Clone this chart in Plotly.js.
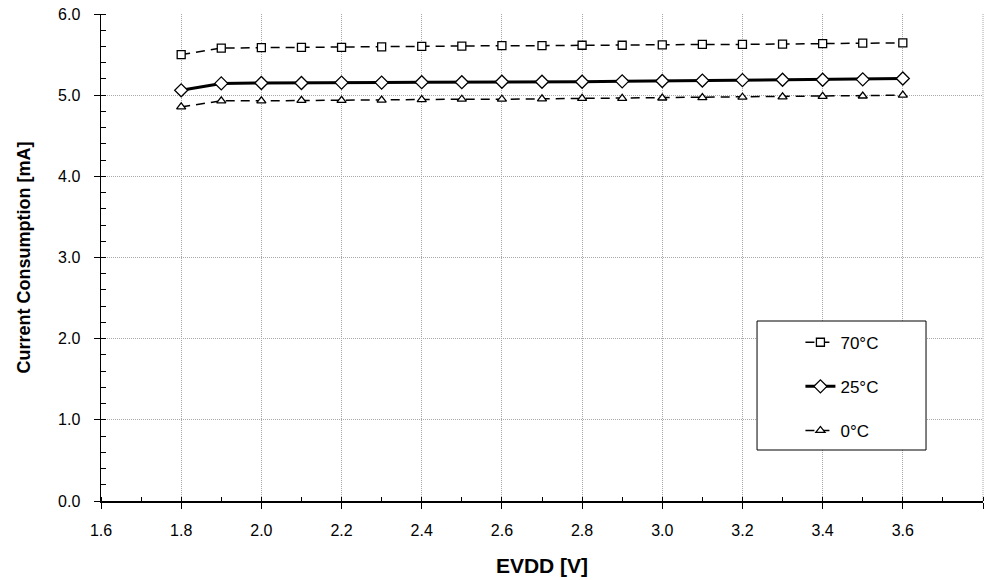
<!DOCTYPE html>
<html>
<head>
<meta charset="utf-8">
<script src="https://cdn.plot.ly/plotly-3.0.1.min.js"></script>
<style>html,body{margin:0;padding:0;background:#fff;}#chart{width:989px;height:580px;}</style>
</head>
<body>
<div id="chart"></div>
<script>
const evdd = [1.8, 1.9, 2.0, 2.1, 2.2, 2.3, 2.4, 2.5, 2.6, 2.7, 2.8, 2.9, 3.0, 3.1, 3.2, 3.3, 3.4, 3.5, 3.6];
const current70 = [5.50, 5.58, 5.585, 5.59, 5.59, 5.595, 5.60, 5.605, 5.61, 5.61, 5.615, 5.615, 5.62, 5.625, 5.625, 5.63, 5.635, 5.64, 5.645];
const current25 = [5.06, 5.145, 5.15, 5.15, 5.155, 5.155, 5.16, 5.16, 5.165, 5.165, 5.165, 5.17, 5.175, 5.18, 5.185, 5.19, 5.19, 5.195, 5.205];
const current0 = [4.855, 4.93, 4.93, 4.935, 4.935, 4.94, 4.945, 4.95, 4.95, 4.955, 4.96, 4.96, 4.965, 4.97, 4.975, 4.98, 4.985, 4.99, 5.0];
const seriesNames = ['70°C', '25°C', '0°C'];
const xTitle = 'EVDD [V]';
const yTitle = 'Current Consumption [mA]';

const font = 'Liberation Sans, Arial, sans-serif';
const gridColor = '#a8a8a8';
const gridDash = '1px,1px';

const traces = [
  {
    x: evdd, y: current70, name: seriesNames[0], type: 'scatter', mode: 'lines+markers',
    legendgroup: 'a',
    line: {color: '#000', width: 1.5, dash: '9px,6px'},
    marker: {symbol: 'square', size: 8, color: '#fff', line: {color: '#000', width: 1.3}}
  },
  {
    x: evdd, y: current25, name: seriesNames[1], type: 'scatter', mode: 'lines+markers',
    legendgroup: 'b',
    line: {color: '#000', width: 3},
    marker: {symbol: 'diamond', size: 10, color: '#fff', line: {color: '#000', width: 1.3}}
  },
  {
    x: evdd, y: current0, name: seriesNames[2], type: 'scatter', mode: 'lines+markers',
    legendgroup: 'c',
    line: {color: '#000', width: 1.5, dash: '9px,6px'},
    marker: {symbol: 'triangle-up', size: 8, color: '#fff', line: {color: '#000', width: 1.3}}
  }
];

const layout = {
  width: 989, height: 580,
  margin: {l: 101, r: 6, t: 14, b: 79},
  paper_bgcolor: '#fff', plot_bgcolor: '#fff',
  font: {family: font, color: '#000', size: 16},
  showlegend: true,
  legend: {
    x: 0.793, y: 0.362, xanchor: 'left', yanchor: 'top',
    bgcolor: 'rgba(0,0,0,0)', borderwidth: 0,
    font: {family: font, size: 17, color: '#000'},
    tracegroupgap: 19
  },
  xaxis: {
    range: [1.6, 3.8], dtick: 0.2, tick0: 1.6, tickformat: '.1f',
    showgrid: true, gridcolor: gridColor, griddash: gridDash, gridwidth: 1,
    showline: true, linecolor: '#000', linewidth: 1.5,
    ticks: 'outside', ticklen: 6, tickcolor: '#000', tickwidth: 1,
    ticklabelstandoff: 8,
    minor: {dtick: 0.1, ticks: 'inside', ticklen: 4, tickcolor: '#000', showgrid: false},
    zeroline: false,
    tickfont: {family: font, size: 16, color: '#000'},
    title: {text: '<b>' + xTitle + '</b>', font: {family: font, size: 21, color: '#000'}, standoff: 20}
  },
  yaxis: {
    range: [0, 6], dtick: 1, tick0: 0, tickformat: '.1f',
    showgrid: true, gridcolor: gridColor, griddash: gridDash, gridwidth: 1,
    showline: true, linecolor: '#000', linewidth: 1.5,
    ticks: 'outside', ticklen: 6, tickcolor: '#000', tickwidth: 1,
    ticklabelstandoff: 10,
    minor: {dtick: 0.2, ticks: 'inside', ticklen: 5, tickcolor: '#000', showgrid: false},
    zeroline: false,
    tickfont: {family: font, size: 16, color: '#000'},
    title: {text: '<b>' + yTitle + '</b>', font: {family: font, size: 18, color: '#000'}, standoff: 22}
  },
  shapes: [
    {type: 'line', xref: 'paper', yref: 'paper', x0: 1, x1: 1, y0: 0, y1: 1,
     line: {color: gridColor, width: 1, dash: gridDash}, layer: 'below'},
    {type: 'rect', xref: 'paper', yref: 'paper', x0: 0.7438, x1: 0.9354, y0: 0.1047, y1: 0.3696,
     line: {color: '#000', width: 1}, fillcolor: '#fff', layer: 'above'}
  ]
};

Plotly.newPlot('chart', traces, layout, {displayModeBar: false, staticPlot: true});
</script>
</body>
</html>
